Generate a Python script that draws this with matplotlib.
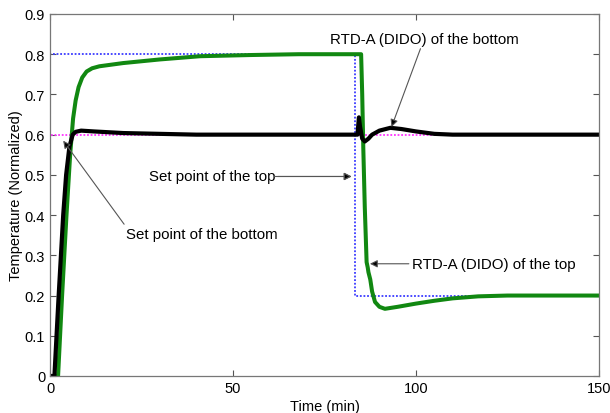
import matplotlib
matplotlib.use("Agg")
import matplotlib.pyplot as plt

plt.rcParams['font.family'] = ['Liberation Sans', 'DejaVu Sans']

# Set points
sp_top_t = [0, 0, 83.2, 83.2, 150]
sp_top_y = [0, 0.8, 0.8, 0.2, 0.2]
sp_bot_t = [0, 0, 150]
sp_bot_y = [0, 0.6, 0.6]

# RTD-A (DIDO) of the top (green)
top_t = [0, 2.2, 3.3, 4.5, 5.5, 6.3, 7.0, 7.8, 8.8, 10, 11.5, 13.5, 20, 30, 41, 55,
         68, 85.0, 85.3, 85.6, 86.0, 86.5, 86.8, 87.0, 87.5, 88.0, 88.8, 90, 91.5,
         95, 100, 105, 110, 117, 125, 150]
top_y = [0, 0, 0.2, 0.4, 0.55, 0.64, 0.685, 0.718, 0.742, 0.757, 0.765, 0.77,
         0.778, 0.787, 0.795, 0.798, 0.8, 0.8, 0.7, 0.565, 0.42, 0.283, 0.27,
         0.258, 0.24, 0.21, 0.184, 0.172, 0.167, 0.172, 0.18, 0.187, 0.193, 0.198,
         0.2, 0.2]

# RTD-A (DIDO) of the bottom (black)
bot_t = [0, 1.2, 2.3, 3.6, 4.4, 5.3, 6.2, 7.0, 8.5, 12, 20, 40, 84.0, 84.4, 84.7,
         85.3, 86.0, 87, 88, 90, 93, 96, 100, 105, 110, 150]
bot_y = [0, 0, 0.19, 0.4, 0.5, 0.57, 0.6, 0.607, 0.61, 0.608, 0.604, 0.6, 0.6,
         0.643, 0.62, 0.59, 0.583, 0.59, 0.6, 0.61, 0.617, 0.614, 0.608, 0.602,
         0.6, 0.6]

xticks = [0, 50, 100, 150]
yticks = [0, 0.1, 0.2, 0.3, 0.4, 0.5, 0.6, 0.7, 0.8, 0.9]

fig = plt.figure(figsize=(6.1, 4.14), dpi=100)
ax = fig.add_axes([0.082, 0.0894, 0.9, 0.8744])

ax.plot(sp_top_t, sp_top_y, color='#3a3aff', ls=(0, (1, 1.0)), lw=1.3)
ax.plot(sp_bot_t, sp_bot_y, color='#ff33ff', ls=(0, (1, 1.0)), lw=1.3)
ax.plot(top_t, top_y, color='#118811', lw=2.9, solid_joinstyle='round')
ax.plot(bot_t, bot_y, color='black', lw=3.0, solid_joinstyle='round')

ax.set_xlim(0, 150)
ax.set_ylim(0, 0.9)
ax.set_xticks(xticks)
ax.set_yticks(yticks)
ax.set_yticklabels(['0' if v == 0 else f'{v:.1f}' for v in yticks])
ax.tick_params(direction='in', top=True, right=True, length=4, width=0.8,
               color='#555555', labelsize=10.5)
for s in ax.spines.values():
    s.set_color('#777777')
    s.set_linewidth(0.9)

ax.set_xlabel('Time (min)', fontsize=10.5, labelpad=3)
ax.set_ylabel('Temperature (Normalized)', fontsize=10.5, labelpad=1)

arrow = dict(arrowstyle='-|>', fc='black', ec='#555555', lw=0.8,
             mutation_scale=11, shrinkA=0, shrinkB=0)
fs = 10.8

ax.annotate('RTD-A (DIDO) of the bottom', xy=(93.3, 0.619), xytext=(102.2, 0.838),
            ha='center', va='center', fontsize=fs, arrowprops=arrow)
ax.annotate('Set point of the top', xy=(82.4, 0.496), xytext=(61.5, 0.496),
            ha='right', va='center', fontsize=fs, arrowprops=arrow)
ax.annotate('', xy=(82.4, 0.496), xytext=(61.3, 0.496), arrowprops=arrow)
ax.annotate('Set point of the bottom', xy=(3.6, 0.585), xytext=(20.8, 0.353),
            ha='left', va='center', fontsize=fs,
            arrowprops=dict(arrow, relpos=(0, 1)))
ax.annotate('RTD-A (DIDO) of the top', xy=(87.4, 0.279), xytext=(98.8, 0.279),
            ha='left', va='center', fontsize=fs, arrowprops=dict(arrow, relpos=(0, 0.5)))

fig.savefig('out.png', dpi=100)
